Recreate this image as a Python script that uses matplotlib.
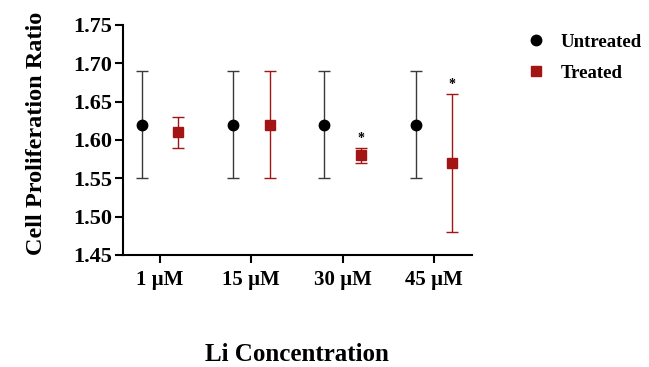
import numpy as np
import matplotlib
matplotlib.use('Agg')
import matplotlib.pyplot as plt
from matplotlib.lines import Line2D

plt.rcParams['font.family'] = ['Liberation Serif', 'DejaVu Serif']
plt.rcParams['font.weight'] = 'bold'

# data
concentrations = ['1 \u00b5M', '15 \u00b5M', '30 \u00b5M', '45 \u00b5M']
untreated = [1.62, 1.62, 1.62, 1.62]
untreated_lo = [1.55, 1.55, 1.55, 1.55]
untreated_hi = [1.69, 1.69, 1.69, 1.69]
treated = [1.61, 1.62, 1.58, 1.57]
treated_lo = [1.59, 1.55, 1.57, 1.48]
treated_hi = [1.63, 1.69, 1.59, 1.66]
significant = [False, False, True, True]

red = '#a31515'
x = np.arange(len(concentrations))
off = 0.2

fig = plt.figure(figsize=(6.49, 3.67), dpi=100)
ax = fig.add_axes([0.1895, 0.3052, 0.5375, 0.6267])

u = np.array(untreated)
t = np.array(treated)
u_err = [u - np.array(untreated_lo), np.array(untreated_hi) - u]
t_err = [t - np.array(treated_lo), np.array(treated_hi) - t]

ax.errorbar(x - off, u, yerr=u_err, fmt='o', color='black', ecolor='#3a3a3a',
            elinewidth=1.0, capsize=4, capthick=1.0, ms=7.5)
ax.errorbar(x + off, t, yerr=t_err, fmt='s', color=red, ecolor=red,
            elinewidth=1.0, capsize=4, capthick=1.0, ms=7.5)

for xi, hi, sig in zip(x, treated_hi, significant):
    if sig:
        ax.text(xi + off, hi + 0.004, '*', ha='center', va='bottom',
                fontsize=10, color='black')

ax.set_xlim(-0.405, 3.415)
ax.set_ylim(1.45, 1.75)
ax.set_yticks(np.arange(1.45, 1.751, 0.05))
ax.set_yticklabels(['%.2f' % v for v in np.arange(1.45, 1.751, 0.05)])
ax.set_xticks(x)
ax.set_xticklabels(concentrations)
ax.tick_params(axis='y', labelsize=16, width=1.5, length=6, pad=2)
ax.tick_params(axis='x', labelsize=15, width=1.5, length=6, pad=5)
for s in ['top', 'right']:
    ax.spines[s].set_visible(False)
for s in ['left', 'bottom']:
    ax.spines[s].set_linewidth(1.5)

ax.set_ylabel('Cell Proliferation Ratio', fontsize=17.5, fontweight='bold')
ax.yaxis.set_label_coords(-0.218, 0.53)
ax.set_xlabel('Li Concentration', fontsize=18, fontweight='bold', labelpad=38)

handles = [Line2D([], [], marker='o', color='black', ls='none', ms=7.5),
           Line2D([], [], marker='s', color=red, ls='none', ms=7.5)]
fig.legend(handles, ['Untreated', 'Treated'], loc='upper left',
           bbox_to_anchor=(0.786, 0.955), frameon=False, fontsize=13.5,
           handlelength=1.0, handletextpad=0.8, labelspacing=0.75)

fig.savefig('out.png', dpi=100)
